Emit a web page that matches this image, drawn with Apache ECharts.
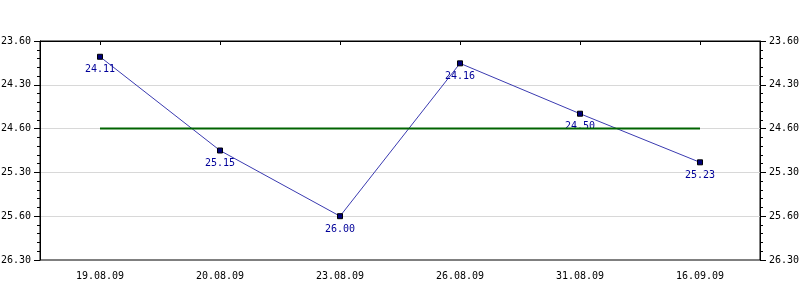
<!DOCTYPE html>
<html>
<head>
<meta charset="utf-8">
<script src="https://cdn.jsdelivr.net/npm/echarts@6/dist/echarts.min.js"></script>
<style>
html,body{margin:0;padding:0;background:#fff;}
#chart{width:800px;height:300px;}
</style>
</head>
<body>
<div id="chart"></div>
<script>
// Categories (dates)
var categories = ['19.08.09', '20.08.09', '23.08.09', '26.08.09', '31.08.09', '16.09.09'];
// Y tick labels as printed on the axes (top to bottom)
var yTickLabels = ['23.60', '24.30', '24.60', '25.30', '25.60', '26.30'];
// Printed point labels
var pointLabels = ['24.11', '25.15', '26.00', '24.16', '24.50', '25.23'];
// Point positions measured on the axis (in tick steps from the top)
var pointPositions = [0.36, 2.50, 4.00, 0.51, 1.66, 2.77];
// Reference level (green line), at the "24.60" tick
var referenceLevel = [2, 2, 2, 2, 2, 2];

var font = 'DejaVu Sans Mono';
var chart = echarts.init(document.getElementById('chart'));

function yAxisDef(pos, showSplit) {
  return {
    type: 'value',
    position: pos,
    inverse: true,
    min: 0,
    max: 5,
    interval: 1,
    axisLine: {show: true, lineStyle: {color: '#000', width: 1}},
    axisTick: {show: true, inside: false, length: 6, lineStyle: {color: '#000'}},
    minorTick: {show: true, splitNumber: 5, length: 3, lineStyle: {color: '#000'}},
    splitLine: {show: showSplit, showMinLine: false, showMaxLine: false, lineStyle: {color: '#d8d8d8', width: 1}},
    axisLabel: {
      margin: 9,
      color: '#000',
      fontFamily: font,
      fontSize: 10,
      formatter: function (v) { return yTickLabels[Math.round(v)]; }
    }
  };
}

chart.setOption({
  animation: false,
  grid: {left: 40, right: 40, top: 41, bottom: 40, outerBoundsMode: 'none', containLabel: false,
         show: true, borderColor: '#000', borderWidth: 1, backgroundColor: 'transparent'},
  xAxis: {
    type: 'category',
    data: categories,
    boundaryGap: true,
    axisLine: {show: true, lineStyle: {color: '#000', width: 1}},
    axisTick: {show: true, alignWithLabel: true, length: 4, lineStyle: {color: '#000'}},
    splitLine: {show: false},
    axisLabel: {margin: 11, color: '#000', fontFamily: font, fontSize: 10, interval: 0}
  },
  yAxis: [yAxisDef('left', true), yAxisDef('right', false)],
  series: [
    {
      type: 'line',
      data: pointPositions,
      yAxisIndex: 0,
      symbol: 'rect',
      symbolSize: 5,
      lineStyle: {color: '#3a3ab0', width: 1},
      itemStyle: {color: '#00007a', borderColor: '#000', borderWidth: 1},
      label: {
        show: true,
        position: 'bottom',
        distance: 5,
        color: '#000099',
        fontFamily: font,
        fontSize: 10,
        formatter: function (p) { return pointLabels[p.dataIndex]; }
      },
      z: 2
    },
    {
      type: 'line',
      data: referenceLevel,
      yAxisIndex: 0,
      symbol: 'none',
      lineStyle: {color: '#006400', width: 2},
      z: 3
    }
  ]
});
</script>
</body>
</html>
